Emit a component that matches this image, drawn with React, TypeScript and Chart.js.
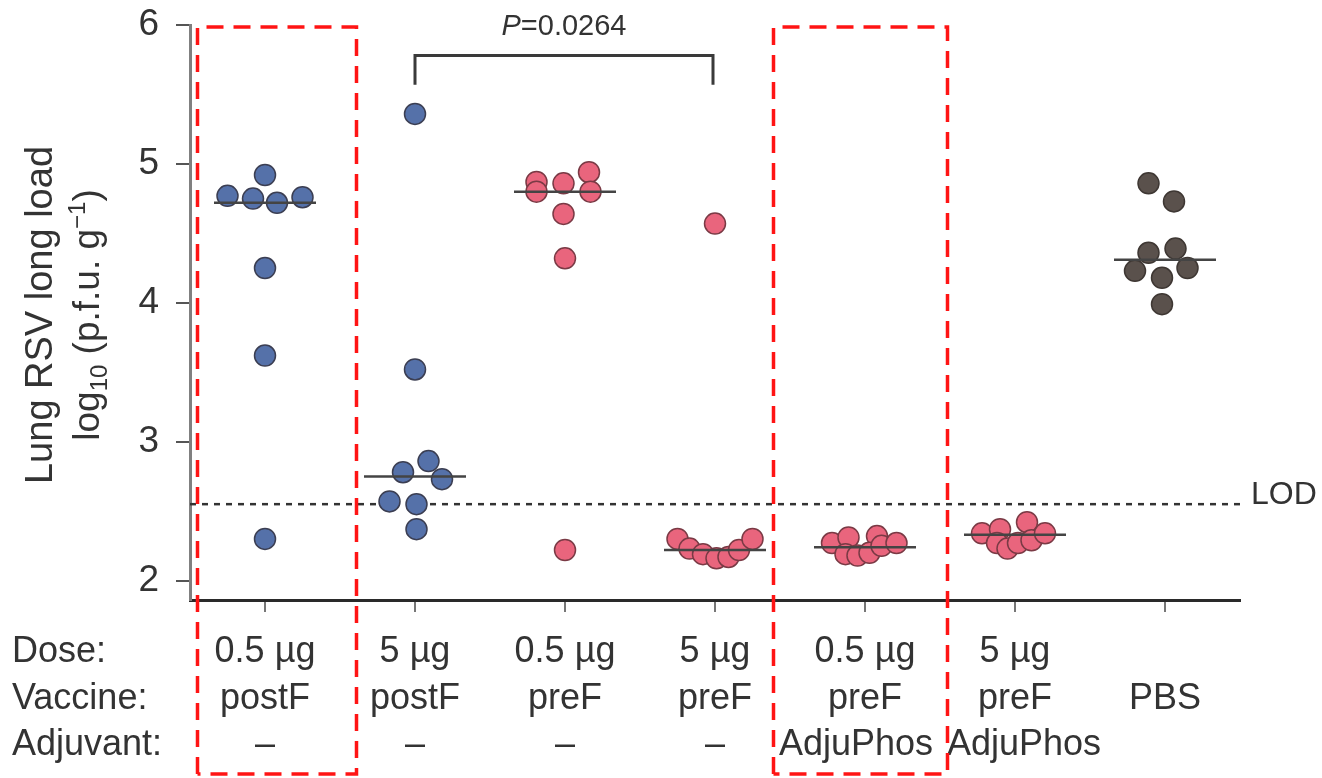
import React, { useEffect, useRef } from 'react';
import { Chart, registerables } from 'chart.js';

Chart.register(...registerables);

// ---- categories / labels ----
const doses = ['0.5 µg', '5 µg', '0.5 µg', '5 µg', '0.5 µg', '5 µg', ''];
const vaccines = ['postF', 'postF', 'preF', 'preF', 'preF', 'preF', 'PBS'];
const adjuvants = ['–', '–', '–', '–', 'AdjuPhos\u2002', '\u2002AdjuPhos', ''];
const rowHeaders = ['Dose:', 'Vaccine:', 'Adjuvant:'];
const yTicks = [2, 3, 4, 5, 6];

// ---- series values (log10 p.f.u. per g) and beeswarm jitter per point ----
const postF05 = [4.77, 4.92, 4.75, 4.72, 4.76, 4.25, 3.62, 2.3];
const postF05Jitter = [-0.25, 0, -0.08, 0.08, 0.25, 0, 0, 0];
const postF5 = [5.36, 3.52, 2.86, 2.78, 2.73, 2.57, 2.55, 2.37];
const postF5Jitter = [0, 0, 0.09, -0.08, 0.18, -0.17, 0.01, 0.01];
const preF05 = [4.87, 4.8, 4.86, 4.94, 4.8, 4.64, 4.32, 2.22];
const preF05Jitter = [-0.19, -0.19, -0.01, 0.16, 0.17, -0.01, 0, 0];
const preF5 = [4.57, 2.3, 2.23, 2.19, 2.16, 2.17, 2.22, 2.3];
const preF5Jitter = [0, -0.25, -0.17, -0.08, 0.01, 0.09, 0.16, 0.25];
const preF05Adju = [2.27, 2.31, 2.19, 2.18, 2.32, 2.2, 2.25, 2.27];
const preF05AdjuJitter = [-0.22, -0.11, -0.13, -0.05, 0.08, 0.03, 0.11, 0.21];
const preF5Adju = [2.34, 2.37, 2.27, 2.23, 2.27, 2.42, 2.29, 2.34];
const preF5AdjuJitter = [-0.22, -0.1, -0.12, -0.05, 0.02, 0.08, 0.11, 0.2];
const pbs = [4.86, 4.73, 4.36, 4.39, 4.23, 4.25, 4.18, 3.99];
const pbsJitter = [-0.11, 0.06, -0.11, 0.07, -0.2, 0.15, -0.02, -0.02];

const groupValues = [postF05, postF5, preF05, preF5, preF05Adju, preF5Adju, pbs];
const groupJitter = [postF05Jitter, postF5Jitter, preF05Jitter, preF5Jitter, preF05AdjuJitter, preF5AdjuJitter, pbsJitter];
const medians = [4.72, 2.75, 4.8, 2.22, 2.24, 2.33, 4.31];
const lod = 2.55;

// significance bracket between groups 1 and 3
const bracketGroups = [1, 3];
const bracketTop = 5.78;
const bracketFoot = 5.57;
const pLabel = '=0.0264';

// highlighted groups (red dashed boxes), in x-axis units
const highlightBoxes = [
  [-0.45, 0.61],
  [3.39, 4.55],
];

const FONT = "'Liberation Sans', Arial, Helvetica, sans-serif";
const TEXT = '#333333';
const fillColors = ['#5571a9', '#5571a9', '#e9657d', '#e9657d', '#e9657d', '#e9657d', '#5a514c'];
const edgeColors = ['#3b3e52', '#3b3e52', '#7a3a45', '#7a3a45', '#7a3a45', '#7a3a45', '#3e3733'];

const X_TICK_LEN = 12;
const X_PAD = 17;
const X_FONT = 36;
const X_LH = 46.5;

const overlay = {
  id: 'overlay',
  afterDraw(chart: any) {
    const { ctx } = chart;
    const xs = chart.scales.x;
    const ys = chart.scales.y;
    ctx.save();
    ctx.fillStyle = TEXT;

    // Y-axis title (two lines)
    ctx.save();
    ctx.translate(52, 315);
    ctx.rotate(-Math.PI / 2);
    ctx.textAlign = 'center';
    ctx.textBaseline = 'alphabetic';
    ctx.font = `38px ${FONT}`;
    ctx.fillText('Lung RSV long load', 0, 0);
    ctx.restore();

    ctx.save();
    ctx.translate(99, 315);
    ctx.rotate(-Math.PI / 2);
    ctx.textBaseline = 'alphabetic';
    ctx.textAlign = 'left';
    const big = `37px ${FONT}`;
    const small = `24px ${FONT}`;
    const parts: [string, string, number][] = [
      ['log', big, 0],
      ['10', small, 8],
      [' (p.f.u. g', big, 0],
      ['−1', small, -14],
      [')', big, 0],
    ];
    let total = 0;
    for (const [t, f] of parts) { ctx.font = f; total += ctx.measureText(t).width; }
    let cx = -total / 2;
    for (const [t, f, dy] of parts) {
      ctx.font = f;
      ctx.fillText(t, cx, dy);
      cx += ctx.measureText(t).width;
    }
    ctx.restore();

    // Row headers
    ctx.font = `${X_FONT}px ${FONT}`;
    ctx.textAlign = 'left';
    ctx.textBaseline = 'middle';
    rowHeaders.forEach((h, i) => {
      ctx.fillText(h, 12, xs.top + X_TICK_LEN + X_PAD + X_LH * (i + 0.5));
    });

    // LOD label
    ctx.font = `32px ${FONT}`;
    ctx.fillText('LOD', xs.right + 11, ys.getPixelForValue(lod) - 9);

    // Significance bracket
    const bx1 = xs.getPixelForValue(bracketGroups[0]);
    const bx2 = xs.getPixelForValue(bracketGroups[1]) - 2;
    const bt = ys.getPixelForValue(bracketTop);
    const bf = ys.getPixelForValue(bracketFoot);
    ctx.strokeStyle = '#3a3a3a';
    ctx.lineWidth = 3;
    ctx.beginPath();
    ctx.moveTo(bx1, bf);
    ctx.lineTo(bx1, bt);
    ctx.lineTo(bx2, bt);
    ctx.lineTo(bx2, bf);
    ctx.stroke();

    ctx.textBaseline = 'alphabetic';
    ctx.font = `italic 29px ${FONT}`;
    const pw = ctx.measureText('P').width;
    ctx.font = `29px ${FONT}`;
    const rw = ctx.measureText(pLabel).width;
    const mid = (bx1 + bx2) / 2;
    const sx = mid - (pw + rw) / 2;
    ctx.font = `italic 29px ${FONT}`;
    ctx.fillText('P', sx, bt - 21);
    ctx.font = `29px ${FONT}`;
    ctx.fillText(pLabel, sx + pw, bt - 21);

    // Red dashed highlight boxes
    ctx.strokeStyle = '#ff1414';
    ctx.lineWidth = 3.5;
    ctx.setLineDash([17, 10]);
    const topY = ys.getPixelForValue(6) + 2;
    const botY = chart.height - 4;
    for (const [a, b] of highlightBoxes) {
      const l = xs.getPixelForValue(a);
      const r = xs.getPixelForValue(b);
      ctx.beginPath();
      ctx.moveTo(l, botY);
      ctx.lineTo(l, topY);
      ctx.lineTo(r, topY);
      ctx.lineTo(r, botY);
      ctx.lineTo(l, botY);
      ctx.stroke();
    }
    ctx.restore();
  },
};

export default function App() {
  const ref = useRef<HTMLCanvasElement | null>(null);

  useEffect(() => {
    if (!ref.current) return;
    const pointSets = groupValues.map((vals, g) => ({
      label: vaccines[g] + ' ' + doses[g],
      data: vals.map((v, k) => ({ x: g + groupJitter[g][k], y: v })),
      backgroundColor: fillColors[g],
      borderColor: edgeColors[g],
      borderWidth: 1.5,
      pointRadius: 10.5,
      pointHoverRadius: 10.5,
      order: 1,
    }));
    const medianSets = medians.map((m, g) => ({
      label: 'median ' + g,
      data: [
        { x: g - 0.34, y: m },
        { x: g + 0.34, y: m },
      ],
      showLine: true,
      borderColor: '#444444',
      borderWidth: 2.5,
      pointRadius: 0,
      order: 0,
    }));
    const lodSet = {
      label: 'LOD',
      data: [
        { x: -0.5, y: lod },
        { x: 6.5, y: lod },
      ],
      showLine: true,
      borderColor: '#333333',
      borderWidth: 2.5,
      borderDash: [6, 6],
      pointRadius: 0,
      order: 2,
    };

    const chart = new Chart(ref.current, {
      type: 'scatter',
      data: { datasets: [...pointSets, ...medianSets, lodSet] as any },
      options: {
        animation: false,
        responsive: false,
        layout: { padding: { left: 0, right: 82, top: 25, bottom: 0 } },
        plugins: { legend: { display: false }, tooltip: { enabled: false } },
        scales: {
          x: {
            type: 'linear',
            min: -0.5,
            max: 6.5,
            afterFit: (s: any) => { s.height = 178; },
            afterBuildTicks: (s: any) => { s.ticks = doses.map((_, i) => ({ value: i })); },
            grid: { drawOnChartArea: false, drawTicks: true, tickLength: X_TICK_LEN, color: '#777777', lineWidth: 2 },
            border: { display: true, color: '#2a2a2a', width: 3 },
            ticks: {
              autoSkip: false,
              maxRotation: 0,
              padding: X_PAD,
              color: TEXT,
              font: { family: FONT, size: X_FONT, lineHeight: X_LH / X_FONT },
              callback: (v: any) => {
                const i = Math.round(Number(v));
                return [doses[i], vaccines[i], adjuvants[i]];
              },
            },
          },
          y: {
            type: 'linear',
            min: 1.86,
            max: 6,
            afterFit: (s: any) => {
              s.width = 190;
              s.paddingTop = 0;
              s.paddingBottom = 0;
            },
            afterBuildTicks: (s: any) => { s.ticks = yTicks.map((v) => ({ value: v })); },
            grid: { drawOnChartArea: false, drawTicks: true, tickLength: 14, color: '#555555', lineWidth: 2 },
            border: { display: true, color: '#808080', width: 3 },
            ticks: {
              padding: 17,
              color: TEXT,
              font: { family: FONT, size: 37 },
              callback: (v: any) => String(v),
            },
          },
        },
      },
      plugins: [overlay],
    });
    return () => chart.destroy();
  }, []);

  return (
    <div style={{ position: 'fixed', left: 0, top: 0, width: 1322, height: 778, background: '#ffffff' }}>
      <canvas ref={ref} width={1322} height={778} style={{ display: 'block' }} />
    </div>
  );
}
